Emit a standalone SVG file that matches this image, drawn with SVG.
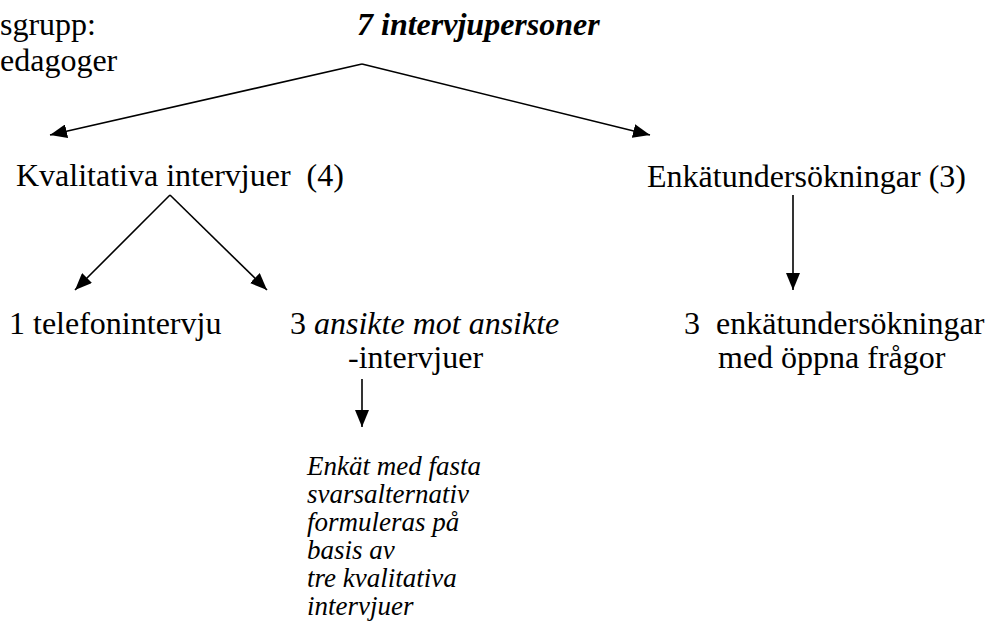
<svg xmlns="http://www.w3.org/2000/svg" width="992" height="631" viewBox="0 0 992 631">
<style>
.t{font-size:32px;fill:#000}
.it{font-style:italic}
.bi{font-style:italic;font-weight:bold}
.small{font-size:27px;font-style:italic}
.c{stroke:#000;stroke-width:1.6;fill:none}
</style>
<defs>
<marker id="ah" markerUnits="userSpaceOnUse" markerWidth="18" markerHeight="14" refX="17" refY="7" orient="auto" viewBox="0 0 18 14">
<path d="M0,0 L17,7 L0,14 Z" fill="#000"/>
</marker>
</defs>
<rect width="992" height="631" fill="#fff"/>
<g id="connectors">
<line class="c" x1="362" y1="64" x2="50" y2="135" marker-end="url(#ah)"/>
<line class="c" x1="362" y1="64" x2="650" y2="135" marker-end="url(#ah)"/>
<line class="c" x1="170" y1="195" x2="75" y2="290" marker-end="url(#ah)"/>
<line class="c" x1="170" y1="195" x2="267" y2="290" marker-end="url(#ah)"/>
<line class="c" x1="793" y1="195" x2="793" y2="290" marker-end="url(#ah)"/>
<line class="c" x1="362" y1="379" x2="362" y2="427" marker-end="url(#ah)"/>
</g>
<g font-family="Liberation Serif, Times New Roman, serif" class="t">
<g id="target-group">
<text x="0" y="35">sgrupp:</text>
<text x="0" y="71">edagoger</text>
</g>
<g id="root"><text class="bi" x="357" y="35">7 intervjupersoner</text></g>
<g id="kvalitativa"><text x="16" y="186" xml:space="preserve">Kvalitativa intervjuer  (4)</text></g>
<g id="enkat"><text x="647" y="187">Enkätundersökningar (3)</text></g>
<g id="telefon"><text x="9" y="334">1 telefonintervju</text></g>
<g id="ansikte">
<text x="290" y="334">3 <tspan class="it">ansikte mot ansikte</tspan></text>
<text x="348" y="368">-intervjuer</text>
</g>
<g id="enkat3">
<text x="684" y="334" xml:space="preserve">3  enkätundersökningar</text>
<text x="718" y="368">med öppna frågor</text>
</g>
<g id="fasta">
<text class="small" x="307" y="475">Enkät med fasta</text>
<text class="small" x="307" y="503">svarsalternativ</text>
<text class="small" x="307" y="531">formuleras på</text>
<text class="small" x="307" y="559">basis av</text>
<text class="small" x="307" y="587">tre kvalitativa</text>
<text class="small" x="307" y="615">intervjuer</text>
</g>
</g>
</svg>
